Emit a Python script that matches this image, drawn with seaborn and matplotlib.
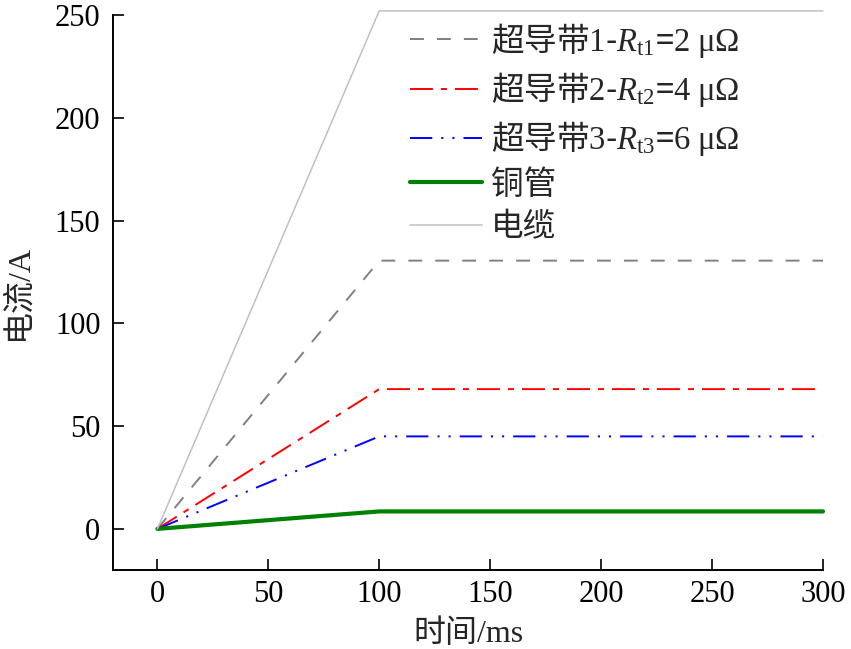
import matplotlib
matplotlib.use("Agg")
import matplotlib.pyplot as plt
from matplotlib.font_manager import FontProperties
import seaborn as sns
import pandas as pd

sns.set_theme(style="ticks")
plt.rcParams['font.family'] = ['Liberation Serif', 'Noto Sans CJK SC', 'DejaVu Sans']
plt.rcParams['mathtext.fontset'] = 'custom'
plt.rcParams['mathtext.rm'] = 'Liberation Serif'
plt.rcParams['mathtext.it'] = 'Liberation Serif:italic'
plt.rcParams['mathtext.bf'] = 'Liberation Serif:bold'
plt.rcParams['lines.scale_dashes'] = False

# Data
time_ms = [0, 100, 300]
tape1 = [0, 130.5, 130.5]
tape2 = [0, 68, 68]
tape3 = [0, 45, 45]
copper = [0, 8.5, 8.5]
cable = [0, 252, 252]

labels = ['超导带$\\mathrm{1}$-$R_{\\mathrm{t1}}$=$\\mathrm{2\\ \\mu\\Omega}$',
          '超导带$\\mathrm{2}$-$R_{\\mathrm{t2}}$=$\\mathrm{4\\ \\mu\\Omega}$',
          '超导带$\\mathrm{3}$-$R_{\\mathrm{t3}}$=$\\mathrm{6\\ \\mu\\Omega}$',
          '铜管', '电缆']
xticks = [0, 50, 100, 150, 200, 250, 300]
yticks = [0, 50, 100, 150, 200, 250]

fig = plt.figure(figsize=(8.51, 6.49), dpi=100)
ax = fig.add_axes([113/851, 79/649, 710/851, 555/649])

series = [
    (tape1, '#808080', 1.4, (0, (10, 9.4))),
    (tape2, '#ff0000', 1.4, (0, (16.5, 5.8, 4.3, 5.8))),
    (tape3, '#0000ff', 1.4, (0, (16, 6.5, 1.5, 6.5, 1.5, 6.5))),
    (copper, '#008000', 3.0, '-'),
    (cable, '#c0c0c0', 1.1, '-'),
]
for (vals, color, lw, ls), lab in zip(series, labels):
    df = pd.DataFrame({'t': time_ms, 'i': vals})
    sns.lineplot(data=df, x='t', y='i', color=color, linewidth=lw, label=lab, ax=ax)
    ln = ax.lines[-1]
    ln.set_linestyle(ls)
    ln.set_clip_on(False)

ax.set_xlim(-20, 300)
ax.set_ylim(-20, 250)
ax.set_xticks(xticks)
ax.set_yticks(yticks)
for s in ['top', 'right']:
    ax.spines[s].set_visible(False)
for s in ['left', 'bottom']:
    ax.spines[s].set_linewidth(1.4)
    ax.spines[s].set_color('black')
ax.tick_params(axis='both', direction='in', length=8, width=1.2, labelsize=22,
               colors='black')
ax.tick_params(axis='y', pad=9)
ax.tick_params(axis='x', pad=7)
ax.set_xlabel('时间/ms', fontsize=23, labelpad=8)
ax.set_ylabel('电流/A', fontsize=23, labelpad=15)

leg_font = FontProperties(family=['Noto Sans CJK SC'], size=23.5)
leg = ax.legend(loc='upper left', bbox_to_anchor=(0.418, 0.99), frameon=False,
                prop=leg_font, handlelength=2.2, handletextpad=0.3,
                labelspacing=0.32, borderpad=0, borderaxespad=0)

fig.savefig('out.png', dpi=100)
